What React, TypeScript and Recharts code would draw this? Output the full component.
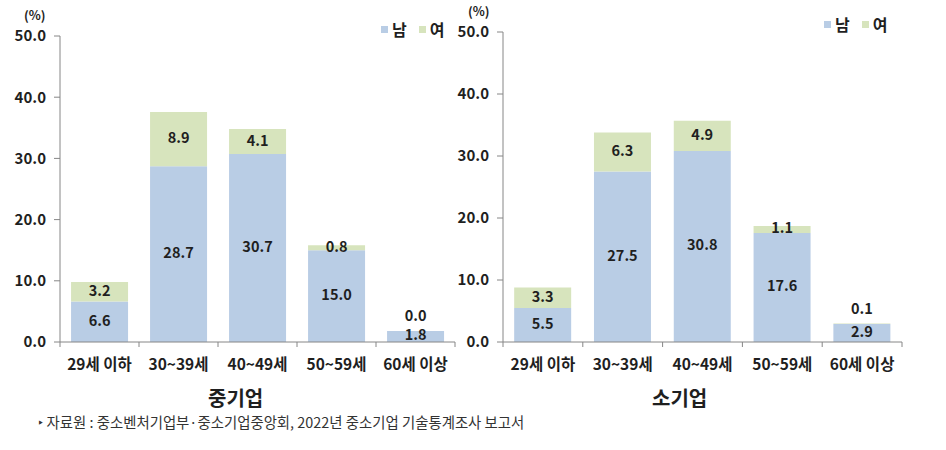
import { Bar, BarChart, LabelList, XAxis, YAxis } from 'recharts';

const categories = ['29세 이하', '30~39세', '40~49세', '50~59세', '60세 이상'];
const seriesNames = ['남', '여'];
const midMale = [6.6, 28.7, 30.7, 15.0, 1.8];
const midFemale = [3.2, 8.9, 4.1, 0.8, 0.0];
const smallMale = [5.5, 27.5, 30.8, 17.6, 2.9];
const smallFemale = [3.3, 6.3, 4.9, 1.1, 0.1];
const yTicks = [0, 10, 20, 30, 40, 50];

const COLORS = {
  male: '#b9cde5',
  female: '#d7e4bd',
  axis: '#868686',
  text: '#1f1f1f',
};
const FONT = '"Noto Sans CJK KR", "Noto Sans", sans-serif';
const TINY = 0.5; // segments this small get their label above the bar

const build = (male: number[], female: number[]) =>
  categories.map((c, i) => ({ name: c, male: male[i], female: female[i] }));

function XTick(props: any) {
  const { x, y, payload, index, visibleTicksCount } = props;
  const half = payload?.offset ?? 40;
  const last = index === visibleTicksCount - 1;
  return (
    <g>
      <line x1={x - half} x2={x - half} y1={y} y2={y + 5} stroke={COLORS.axis} />
      {last && <line x1={x + half} x2={x + half} y1={y} y2={y + 5} stroke={COLORS.axis} />}
      <text
        x={x}
        y={y + 24}
        textAnchor="middle"
        dominantBaseline="middle"
        fontSize={15.5}
        fontWeight="bold"
        fill={COLORS.text}
        fontFamily={FONT}
      >
        {payload.value}
      </text>
    </g>
  );
}

const labelText = (x: number, y: number, value: number) => (
  <text
    x={x}
    y={y}
    textAnchor="middle"
    dominantBaseline="middle"
    fontSize={14.5}
    fontWeight="bold"
    fill={COLORS.text}
    fontFamily={FONT}
  >
    {Number(value).toFixed(1)}
  </text>
);

function SegLabel(props: any) {
  const { x, y, width, height, value } = props;
  if (value < TINY && props.skipTiny) return null;
  return labelText(x + width / 2, y + height / 2, value);
}

// label for a tiny female segment, drawn above the male bar
function TopLabel(props: any) {
  const { x, y, width, value } = props;
  if (value >= TINY) return null;
  return labelText(x + width / 2, y - 14, value);
}

function Panel({ data, top, right }: { data: any[]; top: number; right: number }) {
  return (
    <BarChart
      width={470}
      height={380}
      data={data}
      margin={{ top, right, left: 0, bottom: 0 }}
      barCategoryGap="14%"
    >
      <XAxis
        dataKey="name"
        stroke={COLORS.axis}
        tickLine={false}
        tickSize={0}
        tickMargin={0}
        height={38}
        interval={0}
        tick={<XTick />}
      />
      <YAxis
        domain={[0, 50]}
        ticks={yTicks}
        width={60}
        stroke={COLORS.axis}
        tickSize={6}
        tickMargin={8}
        tickFormatter={(v: number) => v.toFixed(1)}
        tick={{ fill: COLORS.text, fontSize: 15, fontWeight: 'bold', fontFamily: FONT }}
      />
      <Bar dataKey="male" name={seriesNames[0]} stackId="a" fill={COLORS.male} isAnimationActive={false}>
        <LabelList dataKey="male" content={<SegLabel />} />
        <LabelList dataKey="female" content={<TopLabel />} />
      </Bar>
      <Bar dataKey="female" name={seriesNames[1]} stackId="a" fill={COLORS.female} isAnimationActive={false}>
        <LabelList dataKey="female" content={<SegLabel skipTiny />} />
      </Bar>
    </BarChart>
  );
}

function LegendBox({ left, top }: { left: number; top: number }) {
  const colors = [COLORS.male, COLORS.female];
  return (
    <div style={{ position: 'absolute', left, top, display: 'flex', alignItems: 'center', fontFamily: FONT, fontSize: 16, fontWeight: 'bold', color: COLORS.text }}>
      {seriesNames.map((n, i) => (
        <div key={n} style={{ display: 'flex', alignItems: 'center', marginRight: 12 }}>
          <span style={{ width: 7, height: 7, background: colors[i], marginRight: 4, display: 'inline-block' }} />
          <span>{n}</span>
        </div>
      ))}
    </div>
  );
}

const textStyle = (left: number, top: number, size: number, extra: any = {}) => ({
  position: 'absolute' as const,
  left,
  top,
  fontFamily: FONT,
  fontSize: size,
  fontWeight: 'bold' as const,
  color: COLORS.text,
  whiteSpace: 'nowrap' as const,
  lineHeight: 1,
  ...extra,
});

export default function App() {
  return (
    <div style={{ position: 'absolute', left: 0, top: 0, width: 946, height: 450, background: '#fff', overflow: 'hidden' }}>
      <div style={{ position: 'absolute', left: 0, top: 0 }}>
        <Panel data={build(midMale, midFemale)} top={36} right={15} />
      </div>
      <div style={{ position: 'absolute', left: 443, top: 0 }}>
        <Panel data={build(smallMale, smallFemale)} top={32} right={11} />
      </div>
      <div style={textStyle(24, 9, 12.5)}>(%)</div>
      <div style={textStyle(468, 5, 12.5)}>(%)</div>
      <LegendBox left={381} top={17} />
      <LegendBox left={824} top={12} />
      <div style={textStyle(208, 388, 20)}>중기업</div>
      <div style={textStyle(652, 388, 20)}>소기업</div>
      <div style={textStyle(38, 415, 14.4, { fontWeight: 'normal', color: '#333' })}>
        ‣ 자료원 : 중소벤처기업부·중소기업중앙회, 2022년 중소기업 기술통계조사 보고서
      </div>
    </div>
  );
}
